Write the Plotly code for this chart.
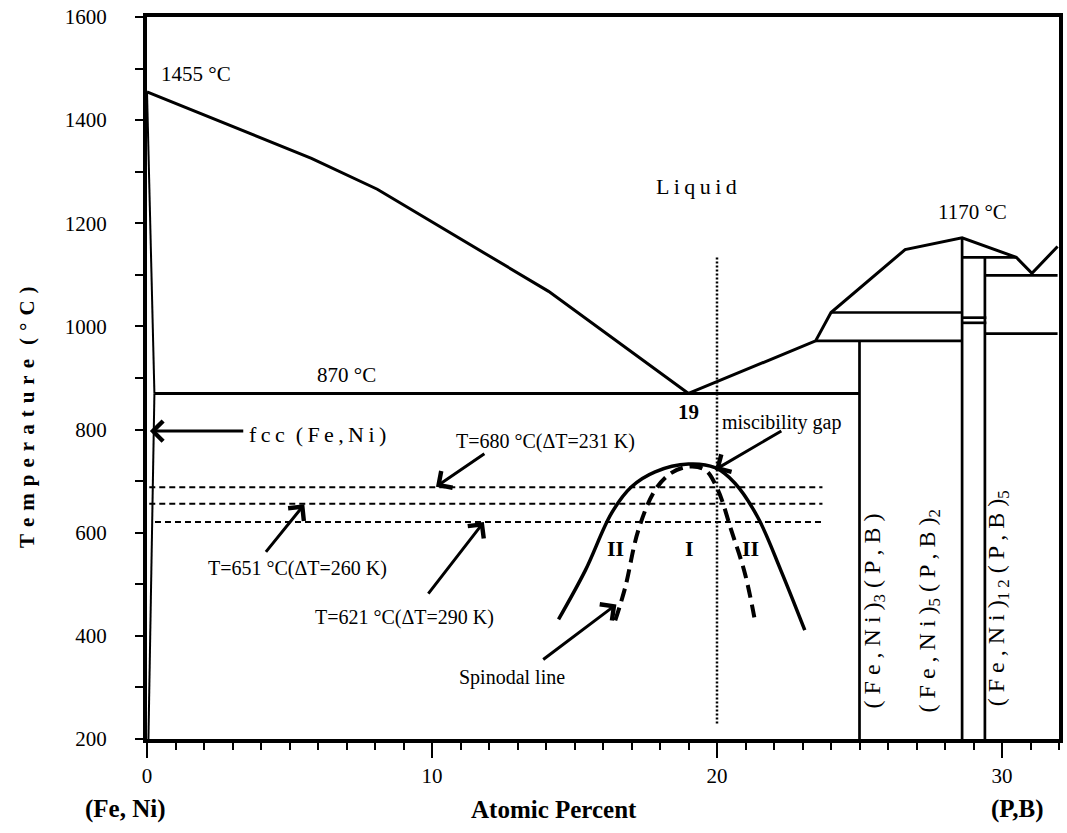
import plotly.graph_objects as go

# ---------------- data (atomic percent of P,B ; temperature in °C) ----------------
liq_left_x = [0.0, 5.77, 8.08, 14.09, 19.0]
liq_left_t = [1455, 1326, 1266, 1068, 870]

liq_right_x = [19.0, 23.46, 24.0, 26.6, 28.6, 30.5, 31.05, 31.95]
liq_right_t = [870, 972, 1027, 1149, 1172, 1134, 1103, 1155]

solidus_x = [0.0, 0.26]
solidus_t = [1455, 870]
solvus_x = [0.26, 0.05]
solvus_t = [870, 200]

eutectic_x = [0.26, 25.0]
eutectic_t = [870, 870]

# phase boundary segments: (x list, t list)
phase_segments = [
    ([25.0, 25.0], [200, 972]),
    ([23.46, 28.6], [972, 972]),
    ([24.0, 28.6], [1027, 1027]),
    ([28.6, 28.6], [200, 1172]),
    ([29.4, 29.4], [200, 1134]),
    ([28.6, 30.5], [1134, 1134]),
    ([29.4, 31.95], [1099, 1099]),
    ([29.4, 31.95], [986, 986]),
    ([28.6, 29.45], [1017, 1017]),
    ([28.6, 29.45], [1007, 1007]),
]

# undercooling isotherms
iso_t = [688, 656, 621]
iso_x_start = [0.08, 0.08, 0.28]
iso_x_end = [23.7, 23.7, 23.7]

# miscibility gap (binodal) and spinodal
binodal_x = [14.44, 15.38, 16.3, 17.0, 17.83, 19.0, 19.93, 20.63, 21.43, 22.24, 23.08]
binodal_t = [432, 527, 638, 689, 718, 733, 726, 696, 630, 527, 411]
spinodal_x = [16.43, 16.78, 17.24, 17.83, 18.4, 19.0, 19.58, 20.03, 20.5, 20.98, 21.33]
spinodal_t = [430, 494, 605, 683, 716, 728, 722, 683, 605, 521, 430]

# composition marker
marker_x = [20.0, 20.0]
marker_t = [230, 1135]

# axes
x_tickvals = [0, 10, 20, 30]
x_ticktext = ["0", "10", "20", "30"]
y_tickvals = [200, 400, 600, 800, 1000, 1200, 1400, 1600]
y_ticktext = ["200", "400", "600", "800", "1000", "1200", "1400", "1600"]

# ---------------- figure ----------------
FONT = "Liberation Serif"
fig = go.Figure()

def add_line(xs, ts, width=3, dash="solid", shape="linear"):
    fig.add_trace(go.Scatter(x=xs, y=ts, mode="lines",
                             line=dict(color="black", width=width, dash=dash, shape=shape),
                             hoverinfo="skip", showlegend=False))

add_line(liq_left_x, liq_left_t, 3)
add_line(liq_right_x, liq_right_t, 3)
add_line(solidus_x, solidus_t, 2)
add_line(solvus_x, solvus_t, 2)
add_line(eutectic_x, eutectic_t, 3)
for sx, st in phase_segments:
    add_line(sx, st, 2.7)
for t, xs, xe in zip(iso_t, iso_x_start, iso_x_end):
    add_line([xs, xe], [t, t], 2, "6px,4px")
add_line(marker_x, marker_t, 2.5, "2px,2px")
add_line(binodal_x, binodal_t, 3.5, shape="spline")
add_line(spinodal_x, spinodal_t, 4, "13px,7px", shape="spline")

ann = []

def text(x, y, s, size=20, bold=False, xanchor="center", angle=0):
    if bold:
        s = "<b>" + s + "</b>"
    ann.append(dict(x=x, y=y, xref="x", yref="y", text=s, showarrow=False,
                    xanchor=xanchor, yanchor="middle", textangle=angle,
                    font=dict(family=FONT, size=size, color="black")))

def arrow(xh, yh, xt, yt):
    ann.append(dict(x=xh, y=yh, ax=xt, ay=yt, xref="x", yref="y",
                    axref="x", ayref="y", text="", showarrow=True,
                    arrowhead=4, arrowsize=1.3, arrowwidth=3,
                    arrowcolor="black", standoff=0, startstandoff=0))

sp = "\u2009"
text(1.71, 1489, "1455 °C", 21)
text(6.99, 906, "870 °C", 21)
text(18.99, 834, "19", 21, bold=True)
text(19.27, 1272, sp.join("Liquid"), 22)
text(28.95, 1221, "1170 °C", 21)
text(3.5, 790, "f" + sp + "c" + sp + "c" + "  " + "(" + sp + "F" + sp + "e" + sp + "," + sp + "N" + sp + "i" + sp + ")", 22, xanchor="left")
text(13.99, 776, "T=680 °C(ΔT=231 K)", 20)
text(5.28, 531, "T=651 °C(ΔT=260 K)", 20)
text(9.02, 436, "T=621 °C(ΔT=290 K)", 20)
text(12.80, 319, "Spinodal line", 20)
text(20.1, 813, "miscibility gap", 20, xanchor="left")
text(16.43, 570, "II", 22, bold=True)
text(19.02, 570, "I", 22, bold=True)
text(21.19, 570, "II", 22, bold=True)

text(25.52, 448, "( F e , N i )<sub>3</sub> ( P , B )", 24, angle=-90)
text(27.45, 448, "( F e , N i )<sub>5</sub> ( P , B )<sub>2</sub>", 24, angle=-90)
text(29.86, 473, "( F e , N i )<sub>1 2</sub> ( P , B )<sub>5</sub>", 24, angle=-90)

arrow(0.1, 797, 3.43, 797)
arrow(10.14, 689, 11.89, 755)
arrow(5.52, 655, 4.13, 560)
arrow(11.82, 621, 9.83, 479)
arrow(16.47, 461, 13.85, 352)
arrow(19.93, 722, 22.31, 799)

# axis titles and end-member labels
sp3 = "\u2004"
ytitle = sp3.join("Temperature") + sp3 + sp3 + sp3.join("(°C)")
ann.append(dict(x=0, y=0.446, xref="paper", yref="paper", xshift=-120,
                text="<b>" + ytitle + "</b>", showarrow=False, textangle=-90,
                xanchor="center", yanchor="middle",
                font=dict(family=FONT, size=21, color="black")))
for xp, xs, s in [(0.4465, 0, "Atomic Percent"), (0.0, -22, "(Fe, Ni)"), (0.955, 0, "(P,B)")]:
    ann.append(dict(x=xp, y=0, xref="paper", yref="paper", xshift=xs, yshift=-70,
                    text="<b>" + s + "</b>", showarrow=False,
                    xanchor="center", yanchor="middle",
                    font=dict(family=FONT, size=25, color="black")))

fig.update_layout(
    width=1067, height=833,
    margin=dict(l=147, r=4, t=17, b=94),
    paper_bgcolor="white", plot_bgcolor="white",
    annotations=ann, showlegend=False, hovermode=False,
    font=dict(family=FONT, size=21, color="black"),
)
fig.update_xaxes(range=[0, 32], tickvals=x_tickvals, ticktext=x_ticktext,
                 showgrid=False, zeroline=False, showline=True, linewidth=4,
                 linecolor="black", mirror=True, ticks="outside", ticklen=15,
                 tickwidth=1.5, tickcolor="black", ticklabelstandoff=0,
                 tickfont=dict(family=FONT, size=21, color="black"),
                 minor=dict(dtick=1, tick0=0, ticks="outside", ticklen=7,
                            tickwidth=1.5, tickcolor="black", showgrid=False))
fig.update_yaxes(range=[200, 1600], tickvals=y_tickvals, ticktext=y_ticktext,
                 showgrid=False, zeroline=False, showline=True, linewidth=4,
                 linecolor="black", mirror=True, ticks="outside", ticklen=8,
                 tickwidth=1.5, tickcolor="black", ticklabelstandoff=24,
                 tickfont=dict(family=FONT, size=21, color="black"),
                 minor=dict(dtick=100, tick0=0, ticks="outside", ticklen=8,
                            tickwidth=1.5, tickcolor="black", showgrid=False))

fig.write_html("out.html", config={"displayModeBar": False},
               post_script="document.body.style.margin='0px';document.body.style.overflow='hidden';")
